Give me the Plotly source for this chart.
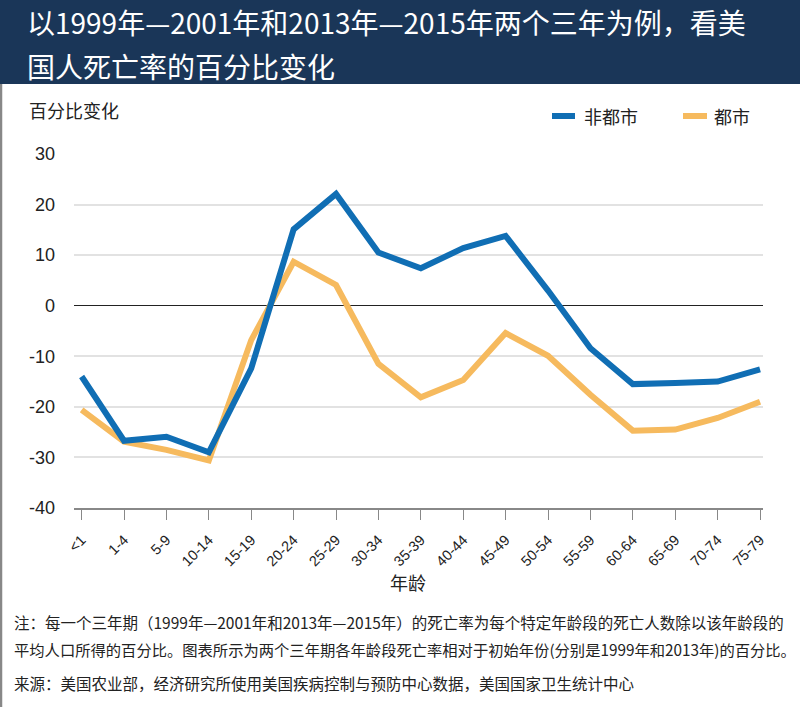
import plotly.graph_objects as go

age_groups = ["<1", "1-4", "5-9", "10-14", "15-19", "20-24", "25-29", "30-34", "35-39",
              "40-44", "45-49", "50-54", "55-59", "60-64", "65-69", "70-74", "75-79"]
nonmetro = [-14.0, -26.7, -25.9, -29.0, -12.4, 15.1, 22.1, 10.5, 7.4,
            11.4, 13.8, 3.0, -8.4, -15.5, -15.3, -15.0, -12.6]
metro = [-20.6, -26.9, -28.5, -30.6, -6.8, 8.7, 4.1, -11.5, -18.1,
         -14.7, -5.4, -9.9, -17.6, -24.7, -24.5, -22.2, -19.0]
y_ticks = [-40, -30, -20, -10, 0, 10, 20, 30]
y_ticktext = ["-40", "-30", "-20", "-10", "0", "10", "20", "30"]

series_names = ["非都市", "都市"]
title_lines = ["以1999年—2001年和2013年—2015年两个三年为例，看美", "国人死亡率的百分比变化"]
y_title = "百分比变化"
x_title = "年龄"
notes = [
    "注：每一个三年期（1999年—2001年和2013年—2015年）的死亡率为每个特定年龄段的死亡人数除以该年龄段的",
    "平均人口所得的百分比。图表所示为两个三年期各年龄段死亡率相对于初始年份(分别是1999年和2013年)的百分比。",
    "来源：美国农业部，经济研究所使用美国疾病控制与预防中心数据，美国国家卫生统计中心",
]

W, H = 800, 707
L, R, T, B = 74, 763, 154, 508

def px(x):
    return (x - L) / (R - L)

def py(y):
    return (B - y) / (B - T)

CJK = "Noto Sans CJK SC, Liberation Sans, Arial, sans-serif"
NUM = "Liberation Sans, Arial, sans-serif"
BLUE = "#106eb4"
ORANGE = "#f6ba5e"
colors = [BLUE, ORANGE]

fig = go.Figure()
xs = list(range(len(age_groups)))
fig.add_trace(go.Scatter(x=xs, y=metro, mode="lines", name=series_names[1],
                         line=dict(color=ORANGE, width=6), cliponaxis=False))
fig.add_trace(go.Scatter(x=xs, y=nonmetro, mode="lines", name=series_names[0],
                         line=dict(color=BLUE, width=6), cliponaxis=False))

fig.update_layout(
    width=W, height=H,
    margin=dict(l=L, r=W - R, t=T, b=H - B, pad=0),
    paper_bgcolor="white", plot_bgcolor="white",
    showlegend=False,
    xaxis=dict(range=[-0.18, 16.07], tickmode="array", tickvals=xs,
               ticktext=age_groups, tickangle=-45, ticks="outside", ticklen=10, tickwidth=1.3,
               tickcolor="#888", showline=True, linecolor="#888", linewidth=1.5,
               showgrid=False, zeroline=False, ticklabelstandoff=6,
               tickfont=dict(family=NUM, size=14.5, color="#222")),
    yaxis=dict(range=[-40, 30], tickmode="array", tickvals=y_ticks, ticktext=y_ticktext,
               showgrid=True, gridcolor="#e2e2e2", gridwidth=1.5, zeroline=True,
               zerolinecolor="#222", zerolinewidth=1.3, showline=False, ticks="",
               ticklabelstandoff=18, tickfont=dict(family=NUM, size=18, color="#222")),
)

shapes = [
    dict(type="rect", xref="paper", yref="paper", x0=px(0), x1=px(W), y0=py(84), y1=py(0),
         fillcolor="#1a3658", line=dict(width=0), layer="below"),
    dict(type="line", xref="paper", yref="paper", x0=px(1), x1=px(1), y0=py(84), y1=py(H),
         line=dict(color="#888", width=2.5)),
]
# manual legend
legend_swatch_x = [(552, 575), (683, 707)]
legend_text_x = [582, 712]
legend_y = 116
for (x0, x1), c in zip(legend_swatch_x, colors):
    shapes.append(dict(type="line", xref="paper", yref="paper", x0=px(x0), x1=px(x1),
                       y0=py(legend_y), y1=py(legend_y), line=dict(color=c, width=6)))
fig.update_layout(shapes=shapes)

annotations = [
    dict(text=title_lines[0], x=px(25), y=py(22), xanchor="left", yanchor="middle",
         font=dict(family=CJK, size=28, color="white")),
    dict(text=title_lines[1], x=px(25), y=py(66), xanchor="left", yanchor="middle",
         font=dict(family=CJK, size=28, color="white")),
    dict(text=y_title, x=px(27), y=py(110), xanchor="left", yanchor="middle",
         font=dict(family=CJK, size=18, color="#222")),
    dict(text=x_title, x=px(408), y=py(582), xanchor="center", yanchor="middle",
         font=dict(family=CJK, size=18, color="#222")),
    dict(text=notes[0], x=px(12), y=py(622), xanchor="left", yanchor="middle",
         font=dict(family=CJK, size=15.5, color="#222")),
    dict(text=notes[1], x=px(12), y=py(649), xanchor="left", yanchor="middle",
         font=dict(family=CJK, size=15.3, color="#222")),
    dict(text=notes[2], x=px(12), y=py(683), xanchor="left", yanchor="middle",
         font=dict(family=CJK, size=15.5, color="#222")),
]
for name, tx in zip(series_names, legend_text_x):
    annotations.append(dict(text=name, x=px(tx), y=py(legend_y), xanchor="left", yanchor="middle",
                            font=dict(family=CJK, size=18, color="#222")))
for a in annotations:
    a.update(xref="paper", yref="paper", showarrow=False)
fig.update_layout(annotations=annotations)

fig.write_html("out.html", config={"displayModeBar": False},
               post_script="document.body.style.margin='0px';")
